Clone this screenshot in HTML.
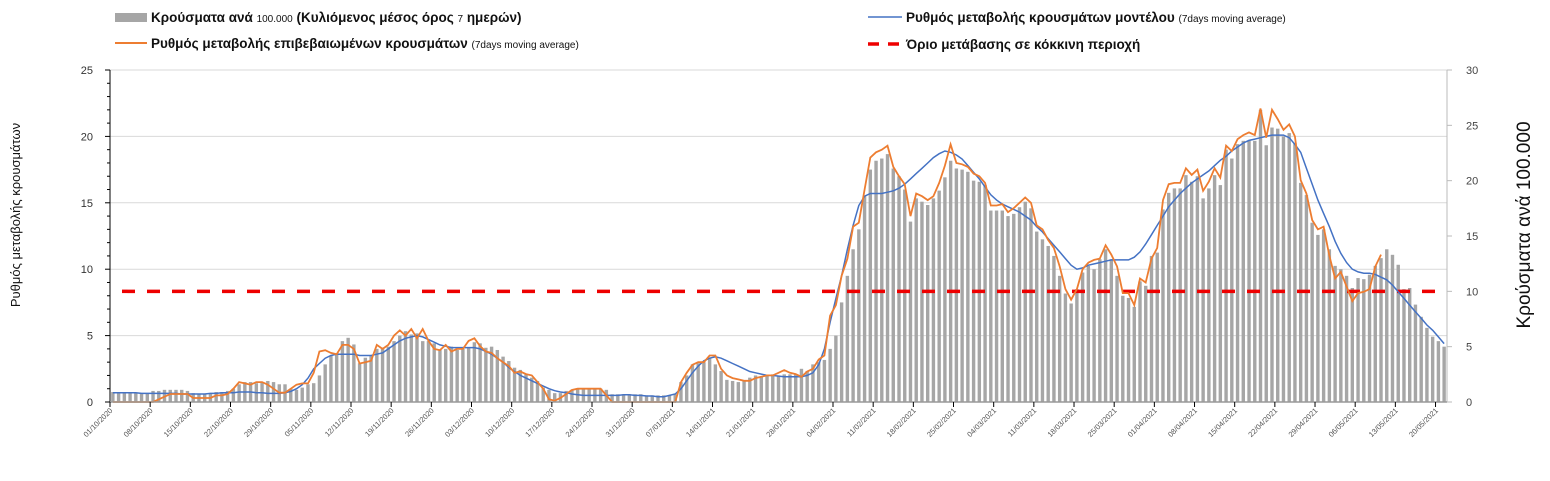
<!DOCTYPE html>
<html><head><meta charset="utf-8">
<style>
html,body{margin:0;padding:0;background:#fff;}
svg{display:block;font-family:"Liberation Sans",sans-serif;}
</style></head>
<body>
<svg id="chart" width="1550" height="481" viewBox="0 0 1550 481" xmlns="http://www.w3.org/2000/svg">
  <g>
    <g>
      <rect x="115" y="13" width="32" height="9" fill="#a6a6a6"/>
      <text x="151" y="22" font-size="13.5" font-weight="bold" fill="#111">Κρούσματα ανά <tspan font-size="10" font-weight="normal">100.000</tspan> (Κυλιόμενος μέσος όρος <tspan font-size="10" font-weight="normal">7</tspan> ημερών)</text>
    </g>
    <g>
      <line x1="115" y1="43" x2="147" y2="43" stroke="#ed7d31" stroke-width="2"/>
      <text x="151" y="48" font-size="13.5" font-weight="bold" fill="#111">Ρυθμός μεταβολής επιβεβαιωμένων κρουσμάτων <tspan font-size="10" font-weight="normal">(7days moving average)</tspan></text>
    </g>
    <g>
      <line x1="868" y1="17" x2="902" y2="17" stroke="#4472c4" stroke-width="1.5"/>
      <text x="906" y="22" font-size="13.5" font-weight="bold" fill="#111">Ρυθμός μεταβολής κρουσμάτων μοντέλου <tspan font-size="10" font-weight="normal">(7days moving average)</tspan></text>
    </g>
    <g>
      <line x1="868" y1="44" x2="902" y2="44" stroke="#e00" stroke-width="3.5" stroke-dasharray="11,9"/>
      <text x="906" y="49" font-size="13.5" font-weight="bold" fill="#111">Όριο μετάβασης σε κόκκινη περιοχή</text>
    </g>
  </g>
  <text transform="translate(20,215) rotate(-90)" text-anchor="middle" font-size="13" fill="#111">Ρυθμός μεταβολής κρουσμάτων</text>
  <text transform="translate(1530,225) rotate(-90)" text-anchor="middle" font-size="19" fill="#111">Κρούσματα ανά 100.000</text>
  <g id="grid"></g>
  <g id="bars"></g>
  <g id="lines"></g>
  <g id="axes"></g>
</svg>
<script>
const leftTicks=[0,5,10,15,20,25];
const rightTicks=[0,5,10,15,20,25,30];
const threshold=[10];
const startDate=[2020,10,1];
const cases=[0.9,0.9,0.8,0.8,0.8,0.8,0.8,
1.0,1.0,1.1,1.1,1.1,1.1,1.0,
0.8,0.7,0.7,0.8,0.9,0.9,1.0,
1.2,1.6,1.8,1.8,1.7,1.8,1.9,
1.8,1.6,1.6,1.2,1.1,1.3,1.6,
1.7,2.4,3.4,4.2,4.3,5.5,5.8,
5.2,3.5,4.0,4.2,4.8,4.9,5.0,
5.5,6.0,6.4,6.1,6.2,5.5,5.5,
5.3,4.7,4.8,5.0,4.7,4.8,4.9,
5.4,5.3,4.9,5.0,4.7,4.1,3.7,
3.1,2.9,2.5,2.2,1.9,1.3,1.1,
0.8,0.8,1.0,1.1,1.2,1.2,1.2,
1.2,1.2,1.1,0.7,0.7,0.7,0.7,
0.7,0.7,0.6,0.6,0.6,0.6,0.6,
0.7,1.8,2.4,3.4,3.5,3.6,4.0,
3.4,2.8,2.0,1.9,1.8,1.9,2.2,
2.4,2.3,2.4,2.5,2.4,2.5,2.5,
2.5,3.0,2.8,3.4,3.6,3.8,4.8,
6.0,9.0,11.4,13.8,15.6,18.6,21.0,
21.8,22.0,22.4,21.1,20.4,19.2,16.3,
18.4,18.1,17.8,18.4,19.1,20.3,21.8,
21.1,21.0,20.8,20.0,19.9,19.6,17.3,
17.3,17.3,16.8,17.0,17.6,18.1,17.5,
15.4,14.7,14.1,13.2,11.4,9.8,8.9,
10.2,11.7,12.3,12.0,12.9,13.8,12.9,
11.4,9.6,9.4,8.6,10.9,10.5,13.2,
13.5,17.4,18.9,19.3,19.3,20.5,19.9,
20.4,18.4,19.3,20.5,19.6,22.8,22.0,
23.3,23.6,23.6,23.6,26.4,23.2,24.8,
24.7,24.0,24.3,23.4,19.8,18.7,16.2,
15.1,15.6,13.8,12.3,12.0,11.4,10.3,
11.2,11.1,11.5,12.3,13.0,13.8,13.3,
12.4,10.2,10.3,8.8,7.7,6.7,5.9,5.5,5.0];
const confirmedRate=[0,0,0,0,0,0,0,
0,0.2,0.4,0.6,0.6,0.6,0.6,
0.3,0.3,0.3,0.3,0.5,0.5,0.6,
1.0,1.5,1.4,1.3,1.5,1.5,1.3,
1.0,0.7,0.7,1.0,1.3,1.4,1.4,
2.2,3.8,3.9,3.7,3.6,4.3,4.3,
4.0,2.9,3.0,3.1,4.3,4.0,4.3,
5.0,5.4,5.0,5.5,4.8,5.5,4.6,
4.0,3.9,4.3,3.8,4.0,4.0,4.6,
4.8,4.2,3.8,3.7,3.3,3.0,2.7,
2.2,2.3,2.1,2.0,1.5,1.0,0.2,
0.1,0.3,0.6,0.9,1.0,1.0,1.0,
1.0,1.0,0.5,0,0,0,0,
0,0,0,0,0,0,0,
0,1.5,2.2,2.8,3.0,3.0,3.5,
3.5,2.5,2.0,1.8,1.7,1.6,1.6,
1.8,1.9,2.0,2.0,2.2,2.4,2.2,
2.1,1.9,2.3,2.5,3.2,3.5,6.5,
7.3,9.5,10.8,13.2,13.5,16.0,18.4,
18.8,19.0,19.3,17.7,17.0,16.4,14.0,
15.7,15.5,15.2,15.5,16.5,17.8,19.4,
18.0,17.9,17.7,17.2,17.0,16.5,14.8,
14.8,14.9,14.3,14.6,15.0,15.4,15.0,
13.3,13.0,12.2,11.6,10.2,8.5,7.7,
8.5,10.0,10.5,10.7,10.8,11.8,11.1,
10.2,8.2,8.2,7.3,9.3,9.0,10.8,
11.6,15.2,16.4,16.5,16.5,17.6,17.1,
17.5,15.9,16.6,17.6,16.9,19.3,18.9,
19.8,20.1,20.3,20.1,22.1,19.9,22.0,
21.3,20.5,20.9,20.0,16.7,15.7,13.7,
13.0,13.2,11.0,9.3,9.8,8.7,7.6,
8.2,8.3,8.5,10.2,11.1];
const modelRate=[.7,.7,.7,.7,.7,.65,.65,
.65,.65,.65,.65,.65,.6,.6,
.6,.6,.6,.65,.65,.7,.7,
.7,.75,.75,.75,.7,.7,.65,
.65,.65,.7,.8,1.0,1.3,1.8,
2.5,2.9,3.3,3.5,3.6,3.6,3.6,
3.6,3.5,3.5,3.5,3.6,3.7,4.0,
4.3,4.6,4.8,4.9,5.0,4.9,4.7,
4.5,4.3,4.2,4.1,4.1,4.1,4.1,
4.1,4.0,3.8,3.6,3.3,3.0,2.6,
2.3,2.0,1.8,1.6,1.4,1.2,1.0,
.85,.75,.7,.6,.55,.5,.5,
.5,.5,.5,.5,.5,.55,.55,
.5,.5,.45,.45,.4,.4,.5,
.6,1.0,1.6,2.2,2.7,3.1,3.3,
3.4,3.3,3.1,2.9,2.7,2.5,2.3,
2.2,2.1,2.0,2.0,1.95,1.9,1.9,
1.9,1.9,2.0,2.2,2.8,4.0,6.0,
7.8,9.5,11.5,13.3,14.8,15.5,15.7,
15.7,15.7,15.8,15.9,16.1,16.4,16.8,
17.2,17.6,18.0,18.4,18.7,18.9,18.8,
18.6,18.3,17.8,17.3,16.8,16.2,15.6,
15.2,14.9,14.7,14.5,14.3,14.0,13.7,
13.2,12.8,12.3,11.8,11.3,10.8,10.3,
10.0,10.1,10.3,10.4,10.5,10.6,10.7,
10.7,10.7,10.7,10.9,11.3,11.9,12.6,
13.3,14.0,14.7,15.2,15.7,16.1,16.5,
16.8,17.1,17.4,17.8,18.2,18.5,18.9,
19.2,19.5,19.7,19.8,19.9,20.0,20.1,
20.1,20.1,19.9,19.4,18.8,17.6,16.4,
15.2,14.2,13.2,12.1,11.2,10.5,10.0,
9.8,9.7,9.7,9.6,9.4,9.2,8.8,
8.3,7.8,7.3,6.8,6.3,5.8,5.4,4.9,4.4];

const NS="http://www.w3.org/2000/svg";
const X0=110, X1=1447, Y0=402, YT=70;
const N=cases.length;
const step=(X1-X0)/N;
const xL=i=>X0+i*step;
const xC=i=>X0+(i+0.5)*step;
const yL=v=>Y0-v/25*(Y0-YT);
const yR=v=>Y0-v/30*(Y0-YT);
function mk(tag,attrs,parent){const e=document.createElementNS(NS,tag);for(const k in attrs)e.setAttribute(k,attrs[k]);parent.appendChild(e);return e;}
const grid=document.getElementById('grid'),barsG=document.getElementById('bars'),linesG=document.getElementById('lines'),axes=document.getElementById('axes');

leftTicks.forEach(t=>{
  if(t>0){const g=mk('line',{x1:X0,x2:X1,y1:yL(t),y2:yL(t),stroke:'#d9d9d9','stroke-width':1},grid);
  
  }
  const tx=mk('text',{x:93,y:yL(t)+4,'text-anchor':'end','font-size':11,fill:'#333'},axes);
  tx.textContent=t;
  
  
});
rightTicks.forEach(t=>{
  const tx=mk('text',{x:1466,y:yR(t)+4,'font-size':11,fill:'#444'},axes);
  tx.textContent=t;
  
  
  mk('line',{x1:X1,x2:X1+5,y1:yR(t),y2:yR(t),stroke:'#bbb'},axes);
});
cases.forEach((v,i)=>{
  const r=mk('rect',{x:xC(i)-1.7,y:yR(v),width:3.4,height:Y0-yR(v),fill:'#a6a6a6'},barsG);
  
  
});
const th=mk('line',{x1:X0+12,x2:X1,y1:yR(threshold[0]),y2:yR(threshold[0]),stroke:'#e00','stroke-width':3.5,'stroke-dasharray':'13,12'},linesG);


function path(arr){let d='';arr.forEach((v,i)=>{if(v==null)return;d+=(d?'L':'M')+xC(i).toFixed(1)+','+yL(v).toFixed(1);});return d;}
const pb=mk('path',{d:path(modelRate),fill:'none',stroke:'#4472c4','stroke-width':1.5},linesG);


const po=mk('path',{d:path(confirmedRate),fill:'none',stroke:'#ed7d31','stroke-width':1.8},linesG);


// axes
mk('line',{x1:X0,x2:X0,y1:YT,y2:Y0,stroke:'#000','stroke-width':1},axes);
mk('line',{x1:X1,x2:X1,y1:YT,y2:Y0,stroke:'#bbb','stroke-width':1},axes);
mk('line',{x1:X0,x2:X1,y1:Y0,y2:Y0,stroke:'#999','stroke-width':1.5},axes);
for(let v=0;v<=25;v+=1){mk('line',{x1:X0-(v%5?3:5),x2:X0,y1:yL(v),y2:yL(v),stroke:'#000'},axes);}
const pad=n=>String(n).padStart(2,'0');
for(let i=0;i<N;i+=7){
  mk('line',{x1:xL(i),x2:xL(i),y1:Y0,y2:Y0+5,stroke:'#000'},axes);
  const d=new Date(startDate[0],startDate[1]-1,startDate[2]+i);
  const lbl=pad(d.getDate())+'/'+pad(d.getMonth()+1)+'/'+d.getFullYear();
  const tx=mk('text',{transform:'translate('+(xL(i)+3)+','+(Y0+9)+') rotate(-45)','text-anchor':'end','font-size':7.5,fill:'#555'},axes);
  tx.textContent=lbl;
  
  
}
</script>
</body></html>
